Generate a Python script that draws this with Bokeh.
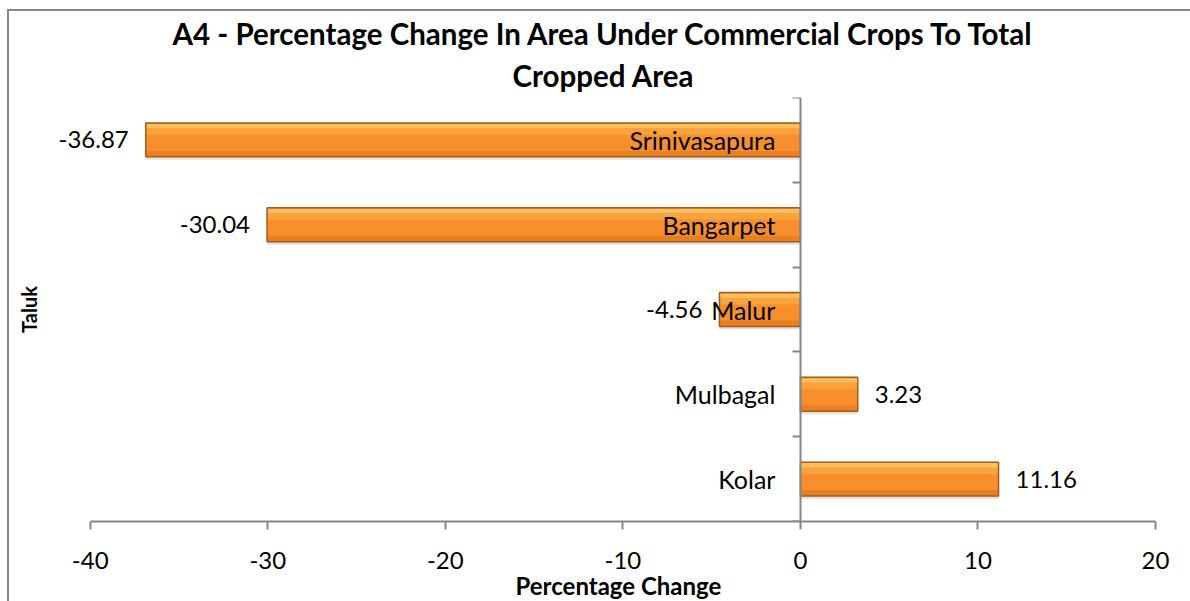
from bokeh.plotting import figure
from bokeh.models import ColumnDataSource, Range1d, FixedTicker, Title, LabelSet
from bokeh.transform import dodge
from bokeh.core.properties import value
from bokeh.embed import file_html
from bokeh.resources import INLINE

# ---- data (bottom to top) ----
taluks = ["Kolar", "Mulbagal", "Malur", "Bangarpet", "Srinivasapura"]
pct_change = [11.16, 3.23, -4.56, -30.04, -36.87]
value_labels = ["11.16", "3.23", "-4.56", "-30.04", "-36.87"]
x_ticks = [-40, -30, -20, -10, 0, 10, 20]
x_tick_labels = ["-40", "-30", "-20", "-10", "0", "10", "20"]

FONT = "Lato"
GRAY = "#868686"

n = len(taluks)
ypos = [i + 0.5 for i in range(n)]
src = ColumnDataSource(dict(taluk=taluks, y=ypos, v=pct_change, zero=[0] * n))
neg = [i for i in range(n) if pct_change[i] < 0]
pos = [i for i in range(n) if pct_change[i] >= 0]
src_neg = ColumnDataSource(dict(y=[ypos[i] for i in neg], v=[pct_change[i] for i in neg],
                                lab=[value_labels[i] for i in neg]))
src_pos = ColumnDataSource(dict(y=[ypos[i] for i in pos], v=[pct_change[i] for i in pos],
                                lab=[value_labels[i] for i in pos]))

p = figure(width=1191, height=600, output_backend="svg", toolbar_location=None,
           x_range=Range1d(-42.8, 20), y_range=Range1d(0, n),
           min_border_left=31, min_border_right=45, min_border_top=86,
           min_border_bottom=90)
p.styles = {"margin-left": "7px", "margin-top": "9px",
            "border-left": "2px solid #878787", "border-top": "2px solid #878787"}
p.outline_line_color = None
p.grid.visible = False
p.background_fill_color = "white"
p.border_fill_color = "white"

# x axis
xa = p.xaxis[0]
xa.bounds = (x_ticks[0], x_ticks[-1])
xa.ticker = FixedTicker(ticks=x_ticks)
xa.major_label_overrides = {t: s for t, s in zip(x_ticks, x_tick_labels)}
xa.axis_line_color = GRAY
xa.axis_line_width = 2
xa.major_tick_line_color = GRAY
xa.major_tick_line_width = 2
xa.major_tick_out = 8
xa.major_tick_in = 0
xa.minor_tick_line_color = None
xa.major_label_text_font = FONT
xa.major_label_text_font_size = "24px"
xa.major_label_text_color = "black"
xa.major_label_standoff = 22

# x axis title, centred under the -40..20 span
p.add_layout(Title(text="Percentage Change", align="left", text_font=FONT,
                   text_font_size="24px", text_font_style="bold",
                   text_color="black", offset=475, standoff=-5), "below")

# vertical axis at x = 0 with ticks at category boundaries
ya = p.yaxis[0]
ya.fixed_location = 0
ya.ticker = FixedTicker(ticks=list(range(n + 1)))
ya.axis_line_color = GRAY
ya.axis_line_width = 2
ya.major_tick_line_color = GRAY
ya.major_tick_line_width = 2
ya.major_tick_out = 8
ya.major_tick_in = 0
ya.minor_tick_line_color = None
ya.major_label_text_font_size = "0px"
ya.major_label_text_alpha = 0

# "Taluk" label on left
p.add_layout(Title(text="Taluk", align="center", text_font=FONT,
                   text_font_size="20px", text_font_style="bold",
                   text_color="black", standoff=0), "left")

# title lines (added bottom-first)
p.add_layout(Title(text="Cropped Area", align="left", text_font=FONT,
                   text_font_size="29.5px", text_font_style="bold",
                   text_color="black", offset=472, standoff=10), "above")
p.add_layout(Title(text="A4 - Percentage Change In Area Under Commercial Crops To Total",
                   align="left", text_font=FONT, text_font_size="29.5px",
                   text_font_style="bold", text_color="black", offset=132,
                   standoff=0), "above")

# bars with simple shading layers
p.hbar(y=dodge("y", -0.035), left="zero", right="v", height=0.4,
       source=src, fill_color="#9a9a9a", fill_alpha=0.3, line_color=None)
p.hbar(y="y", left="zero", right="v", height=0.4, source=src,
       fill_color="#E8801F", line_color=None)
p.hbar(y=dodge("y", 0.025), left="zero", right="v", height=0.31,
       source=src, fill_color="#F7902C", line_color=None)
p.hbar(y=dodge("y", 0.12), left="zero", right="v", height=0.12,
       source=src, fill_color="#FAA33C", line_color=None)
p.hbar(y=dodge("y", 0.165), left="zero", right="v", height=0.05,
       source=src, fill_color="#FDC05E", line_color=None)
p.hbar(y="y", left="zero", right="v", height=0.4, source=src,
       fill_color=None, line_color="#A85A18", line_width=1.5)

# category labels next to the zero axis
p.add_layout(LabelSet(x="zero", y="y", text="taluk", source=src, x_offset=-25,
                      text_align="right", text_baseline="middle", text_font=value(FONT),
                      text_font_size="25px", text_color="black"))

# value labels
p.add_layout(LabelSet(x="v", y="y", text="lab", source=src_neg, x_offset=-17,
                      text_align="right", text_baseline="middle", text_font=value(FONT),
                      text_font_size="24px", text_color="black"))
p.add_layout(LabelSet(x="v", y="y", text="lab", source=src_pos, x_offset=17,
                      text_align="left", text_baseline="middle", text_font=value(FONT),
                      text_font_size="24px", text_color="black"))

open("out.html", "w").write(file_html(p, INLINE))
